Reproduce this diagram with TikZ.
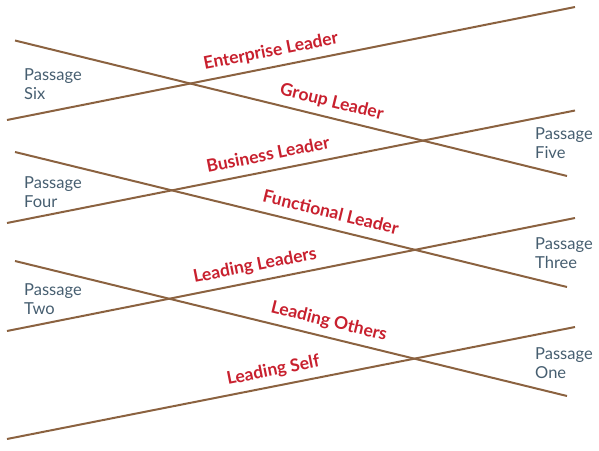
\documentclass[tikz,border=0pt]{standalone}
\usepackage{fontspec}
\setmainfont{Lato}
\usetikzlibrary{calc}
\definecolor{linebrown}{HTML}{8B6240}
\definecolor{labelred}{HTML}{C8202E}
\definecolor{slate}{HTML}{465E70}
\begin{document}
\begin{tikzpicture}[x=1pt,y=-1pt,
  bar/.style={draw=linebrown,line width=2pt},
  stage/.style={text=labelred,font=\fontsize{17.5}{20}\selectfont\bfseries,inner sep=0pt,anchor=base},
  passage/.style={text=slate,font=\fontsize{16.5}{19.5}\selectfont,inner sep=0pt,align=left,anchor=north west}]
\useasboundingbox (0,0) rectangle (599,450);
% endpoints
\coordinate (a1) at (7,120);   \coordinate (b1) at (575,7);
\coordinate (a2) at (15,40.5); \coordinate (b2) at (567,176);
\coordinate (a3) at (7,223);   \coordinate (b3) at (575,110.5);
\coordinate (a4) at (15,152);  \coordinate (b4) at (567,287);
\coordinate (a5) at (7,331);   \coordinate (b5) at (575,218);
\coordinate (a6) at (15,261);  \coordinate (b6) at (567,396);
\coordinate (a7) at (7,439);   \coordinate (b7) at (575,327);
\foreach \i in {1,...,7}{\draw[bar] (a\i) -- (b\i);}
% stage labels
\node[stage,rotate=11.2]  (enterprise) at ($($(a1)!0.47!(b1)$)!10.5pt!90:(b1)$) {Enterprise Leader};
\node[stage,rotate=-13.75] (group) at ($($(a2)!0.567!(b2)$)!10.5pt!90:(b2)$) {Group Leader};
\node[stage,rotate=11.2]  (business) at ($($(a3)!0.465!(b3)$)!10.5pt!90:(b3)$) {Business Leader};
\node[stage,rotate=-13.75] (functional) at ($($(a4)!0.565!(b4)$)!10.5pt!90:(b4)$) {Functional Leader};
\node[stage,rotate=11.2]  (leaders) at ($($(a5)!0.442!(b5)$)!10.5pt!90:(b5)$) {Leading Leaders};
\node[stage,rotate=-13.75] (others) at ($($(a6)!0.562!(b6)$)!10.5pt!90:(b6)$) {Leading Others};
\node[stage,rotate=11.2]  (self) at ($($(a7)!0.474!(b7)$)!10.5pt!90:(b7)$) {Leading Self};
% passage labels
\node[passage] (p6) at (24,68) {Passage\\Six};
\node[passage] (p4) at (24,176) {Passage\\Four};
\node[passage] (p2) at (24,283) {Passage\\Two};
\node[passage] (p5) at (535,127) {Passage\\Five};
\node[passage] (p3) at (535,237) {Passage\\Three};
\node[passage] (p1) at (535,347) {Passage\\One};
\end{tikzpicture}
\end{document}
